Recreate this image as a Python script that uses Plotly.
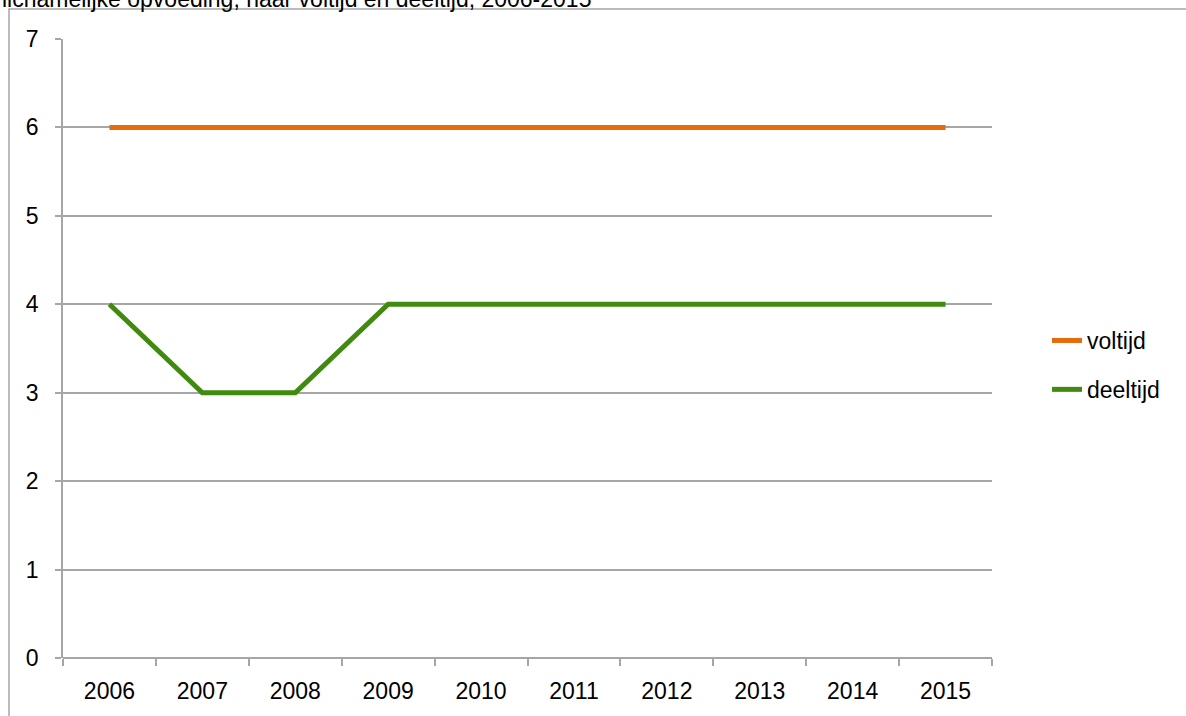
import plotly.graph_objects as go

years = ["2006", "2007", "2008", "2009", "2010", "2011", "2012", "2013", "2014", "2015"]
voltijd = [6, 6, 6, 6, 6, 6, 6, 6, 6, 6]
deeltijd = [4, 3, 3, 4, 4, 4, 4, 4, 4, 4]
title_text = "lichamelijke opvoeding, naar voltijd en deeltijd, 2006-2015"

W, H = 1186, 716
L, R, T, B = 63, 992, 39, 658

FONT = "Liberation Sans"
FS = 23
GRID = "#a6a6a6"

fig = go.Figure()
fig.add_trace(go.Scatter(x=years, y=voltijd, mode="lines", name="voltijd",
                         line=dict(color="#E46C0A", width=5), legendgroup="a"))
fig.add_trace(go.Scatter(x=years, y=deeltijd, mode="lines", name="deeltijd",
                         line=dict(color="#3F8A0F", width=5), legendgroup="b"))

def px_x(px):
    return (px - L) / (R - L)

def px_y(py):
    return (B - py) / (B - T)

fig.update_layout(
    width=W, height=H,
    margin=dict(l=L, r=W - R, t=T, b=H - B, pad=0),
    paper_bgcolor="white", plot_bgcolor="white",
    font=dict(family=FONT, size=FS, color="black"),
    showlegend=True,
    legend=dict(x=px_x(1047), y=px_y(365), xanchor="left", yanchor="middle",
                font=dict(family=FONT, size=FS), tracegroupgap=16,
                bgcolor="rgba(0,0,0,0)"),
    xaxis=dict(type="category", range=[-0.5, 9.5], tickson="boundaries",
               showgrid=False, showline=False, zeroline=False,
               ticks="outside", ticklen=7, tickcolor=GRID, tickwidth=1.5,
               ticklabelstandoff=17, fixedrange=True),
    yaxis=dict(range=[0, 7], dtick=1, showgrid=True, gridcolor=GRID, gridwidth=1.5,
               showline=True, linecolor=GRID, linewidth=1.5, zeroline=True,
               zerolinecolor=GRID, zerolinewidth=1.5,
               ticks="outside", ticklen=6, tickcolor=GRID, tickwidth=1.5,
               ticklabelstandoff=12, fixedrange=True),
    shapes=[dict(type="rect", xref="paper", yref="paper",
                 x0=px_x(9), x1=px_x(1300), y0=px_y(800), y1=px_y(9),
                 line=dict(color=GRID, width=1.5), layer="below")],
    annotations=[dict(text=title_text, xref="paper", yref="paper",
                      x=px_x(0), y=px_y(14), xanchor="left", yanchor="bottom",
                      showarrow=False, font=dict(family=FONT, size=FS))],
)

fig.write_html("out.html", config={"displayModeBar": False},
               post_script="document.body.style.margin='0';document.body.style.overflow='hidden';")
